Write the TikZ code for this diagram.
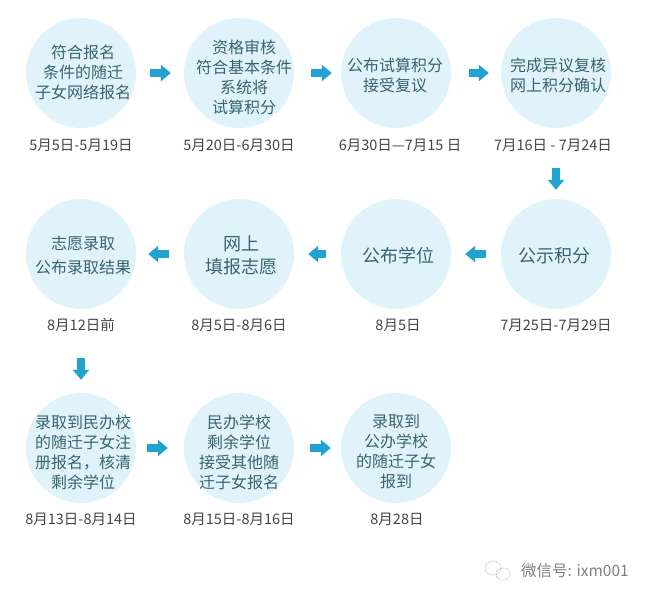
\documentclass[tikz,border=0pt]{standalone}
\usepackage{fontspec}
\setmainfont{Noto Sans CJK SC}
\usetikzlibrary{arrows.meta,calc}
\definecolor{circfill}{HTML}{E0F3FB}
\definecolor{circtext}{HTML}{3A636F}
\definecolor{datetext}{HTML}{454545}
\definecolor{arrowblue}{HTML}{22A2D0}
\newcommand{\largetxt}{\fontsize{18}{24}\selectfont}
\tikzset{
  stepcirc/.style={circle,fill=circfill,minimum size=110pt,inner sep=0pt},
  steptext/.style={text=circtext,align=center,inner sep=0pt,font=\fontsize{16}{20}\selectfont},
  datelabel/.style={text=datetext,inner sep=0pt,font=\fontsize{14.5}{16}\selectfont},
  flowarrow/.style={arrowblue,line width=7.5pt,-{Triangle[length=10pt,width=16pt]}},
}

\begin{document}
\begin{tikzpicture}[x=1pt,y=-1pt]
  \useasboundingbox (0,0) rectangle (650,600);

  % circles, texts and dates
  \foreach \name/\cx/\cy/\tx/\ty/\dx/\dy/\txt/\dat in {
    1/81/73/83/72/81/145/{符合报名\\条件的随迁\\子女网络报名}/{5月5日-5月19日},
    2/239/73/244/77/239/145/{资格审核\\符合基本条件\\系统将\\试算积分}/{5月20日-6月30日},
    3/396/73/395/75/400/145/{公布试算积分\\接受复议}/{6月30日—7月15 日},
    4/556/73/558/75/553/145/{完成异议复核\\网上积分确认}/{7月16日 - 7月24日},
    5/556/254/554/256/556/325/{\largetxt 公示积分}/{7月25日-7月29日},
    6/396/254/398/256/398/325/{\largetxt 公布学位}/{8月5日},
    7/239/254/241/255/239/325/{\largetxt 网上\\[3pt]\largetxt 填报志愿}/{8月5日-8月6日},
    8/81/254/83/255/81/325/{志愿录取\\[4pt]公布录取结果}/{8月12日前},
    9/81/448/83/452/81/519/{录取到民办校\\的随迁子女注\\册报名，核清\\剩余学位}/{8月13日-8月14日},
    10/239/448/239/452/239/519/{民办学校\\剩余学位\\接受其他随\\迁子女报名}/{8月15日-8月16日},
    11/396/448/396/452/397/519/{录取到\\公办学校\\的随迁子女\\报到}/{8月28日}}{
    \node[stepcirc] (s\name) at (\cx,\cy) {};
    \node[steptext] (t\name) at (\tx,\ty) {\txt};
    \node[datelabel] (d\name) at (\dx,\dy) {\dat};
  }

  % arrows along each row
  \def\prev{s1}
  \foreach \curr/\gapa/\gapb in {s2/14/13,s3/17/9,s4/18/12}{
    \draw[flowarrow,yshift=2pt,shorten <=\gapa pt,shorten >=\gapb pt] (\prev) -- (\curr);
    \xdef\prev{\curr}
  }
  \def\prev{s5}
  \foreach \curr/\gapa/\gapb in {s6/15/14,s7/15/14,s8/15/12}{
    \draw[flowarrow,yshift=-6pt,shorten <=\gapa pt,shorten >=\gapb pt] (\prev) -- (\curr);
    \xdef\prev{\curr}
  }
  \def\prev{s9}
  \foreach \curr/\gapa/\gapb in {s10/11/16,s11/16/10}{
    \draw[flowarrow,yshift=1pt,shorten <=\gapa pt,shorten >=\gapb pt] (\prev) -- (\curr);
    \xdef\prev{\curr}
  }

  % arrows between the rows
  \draw[flowarrow,xshift=1pt,shorten <=40pt,shorten >=9pt] (s4) -- (s5);
  \draw[flowarrow,shorten <=49pt,shorten >=13pt] (s8) -- (s9);

  % mark at the corner
  \node[text=black!50,inner sep=0pt,font=\fontsize{15.5}{18}\selectfont] (mark) at (575,571) {微信号: ixm001};
  \draw[black!40,densely dotted,line width=.6pt] (493,568) ellipse (8pt and 7pt);
  \draw[black!40,densely dotted,line width=.6pt] (503,574) ellipse (7pt and 6pt);
\end{tikzpicture}
\end{document}
